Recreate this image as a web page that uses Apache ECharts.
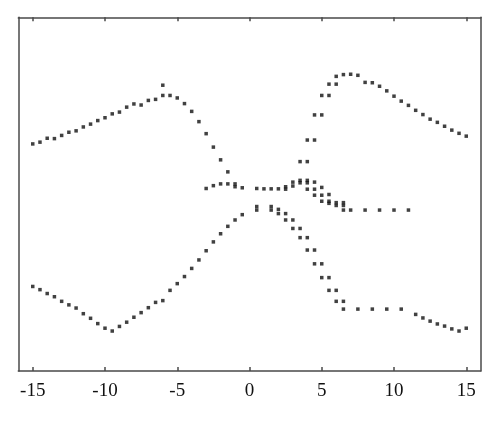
<!DOCTYPE html>
<html>
<head>
<meta charset="utf-8">
<script src="https://cdn.jsdelivr.net/npm/echarts@6/dist/echarts.min.js"></script>
<style>html,body{margin:0;padding:0;background:#fff}#c{width:500px;height:423px}</style>
</head>
<body>
<div id="c"></div>
<script>
// x tick labels
const xTicks = [-15, -10, -5, 0, 5, 10, 15];

// Upper-left branch
const upperLeft = [[-15,64.2],[-14.5,64.7],[-14,65.8],[-13.5,65.7],[-13,66.6],[-12.5,67.5],[-12,67.9],[-11.5,69.0],[-11,69.8],[-10.5,70.8],[-10,71.6],[-9.5,72.7],[-9,73.2],[-8.5,74.6],[-8,75.5],[-7.5,75.2],[-7,76.5],[-6.5,76.8],[-6,77.9],[-6,80.8],[-5.5,77.9],[-5,77.2],[-4.5,75.6],[-4,73.4],[-3.5,70.5],[-3,67.1],[-2.5,63.3],[-2,59.7],[-1.5,56.3]];

// Lower-left branch
const lowerLeft = [[-15,23.9],[-14.5,23.0],[-14,21.9],[-13.5,21.0],[-13,19.7],[-12.5,18.7],[-12,17.8],[-11.5,16.2],[-11,14.9],[-10.5,13.4],[-10,12.1],[-9.5,11.3],[-9,12.6],[-8.5,13.8],[-8,15.2],[-7.5,16.5],[-7,17.9],[-6.5,19.4],[-6,19.9],[-5.5,22.8],[-5,24.7],[-4.5,26.7],[-4,29.0],[-3.5,31.4],[-3,34.0],[-2.5,36.5],[-2,38.8],[-1.5,40.9],[-1,42.7],[-0.5,44.2]];

// Lower-right branch (two close sub-branches)
const lowerRightA = [[0.5,46.5],[1.5,46.5],[2,45.7],[2.5,44.5],[3,42.7],[3.5,40.3],[4,37.7],[4.5,34.2],[5,30.3],[5.5,26.4],[6,22.8],[6.5,19.7]];
const lowerRightB = [[0.5,45.5],[1.5,45.5],[2,44.5],[2.5,42.7],[3,40.3],[3.5,37.7],[4,34.2],[4.5,30.3],[5,26.4],[5.5,22.8],[6,19.7],[6.5,17.5],[7.5,17.5],[8.5,17.5],[9.5,17.5],[10.5,17.5],[11.5,16.0],[12,15.0],[12.5,14.1],[13,13.3],[13.5,12.7],[14,11.9],[14.5,11.3],[15,12.1]];

// Upper-right branch (peak)
const upperRightA = [[3.5,59.2],[4,65.3],[4.5,72.4],[5,77.9],[5.5,81.1],[6,83.3]];
const upperRightB = [[4,59.2],[4.5,65.3],[5,72.4],[5.5,77.9],[6,81.1],[6.5,83.8],[7,83.9],[7.5,83.6],[8,81.6],[8.5,81.5],[9,80.5],[9.5,79.2],[10,77.7],[10.5,76.3],[11,75.1],[11.5,73.7],[12,72.5],[12.5,71.2],[13,70.3],[13.5,69.2],[14,68.1],[14.5,67.2],[15,66.4]];

// Middle branches
const middle1 = [[-3,51.6],[-2.5,52.4],[-2,52.9],[-1.5,52.9],[-1,52.9],[-0.5,51.8],[0.5,51.6],[1,51.5],[1.5,51.5],[2,51.5],[2.5,52.1],[3,53.4],[3.5,53.9],[4,53.9],[4.5,53.4],[5,51.9],[5.5,49.9],[6,47.6],[6.5,47.6]];
const middle2 = [[-1,52.1],[2.5,51.4],[3,52.3],[3.5,53.2],[4,53.2],[4.5,51.4],[5,49.7],[5.5,48.0],[6,46.8],[6.5,46.8],[7,45.5],[8,45.5],[9,45.5],[10,45.5],[11,45.5]];
const middle3 = [[4,51.4],[4.5,49.7],[5,48.0],[5.5,47.4],[6.5,45.5]];

const allSets = [upperLeft, lowerLeft, lowerRightA, lowerRightB, upperRightA, upperRightB, middle1, middle2, middle3];

const chart = echarts.init(document.getElementById('c'), null, {renderer: 'canvas'});
const lineStyle = {color: '#4a4a4a', width: 1.5};
chart.setOption({
  animation: false,
  backgroundColor: '#ffffff',
  grid: {left: 18.3, right: 19.3, top: 17.3, bottom: 52, containLabel: false},
  xAxis: [{
    type: 'value', min: -16, max: 16, position: 'bottom',
    axisLine: {show: true, onZero: false, lineStyle: lineStyle},
    axisTick: {show: true, inside: true, length: 4, lineStyle: lineStyle, customValues: xTicks},
    axisLabel: {show: true, customValues: xTicks, margin: 11, fontFamily: 'Liberation Serif', fontSize: 19, color: '#111'},
    splitLine: {show: false}
  }, {
    type: 'value', min: -16, max: 16, position: 'top',
    axisLine: {show: true, onZero: false, lineStyle: lineStyle},
    axisTick: {show: true, inside: true, length: 4, lineStyle: lineStyle, customValues: xTicks},
    axisLabel: {show: false},
    splitLine: {show: false}
  }],
  yAxis: [{
    type: 'value', min: 0, max: 100, position: 'left',
    axisLine: {show: true, onZero: false, lineStyle: lineStyle},
    axisTick: {show: false}, axisLabel: {show: false}, splitLine: {show: false}
  }, {
    type: 'value', min: 0, max: 100, position: 'right',
    axisLine: {show: true, onZero: false, lineStyle: lineStyle},
    axisTick: {show: false}, axisLabel: {show: false}, splitLine: {show: false}
  }],
  series: allSets.map(d => ({
    type: 'scatter', xAxisIndex: 0, yAxisIndex: 0,
    symbol: 'rect', symbolSize: 3.5,
    itemStyle: {color: '#111111'},
    data: d
  }))
});
</script>
</body>
</html>
